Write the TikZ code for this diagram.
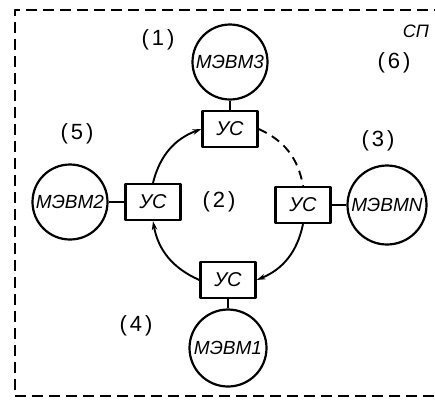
\documentclass[tikz,border=0pt]{standalone}
\usepackage{fontspec}
\setmainfont{Liberation Sans}
\usetikzlibrary{arrows.meta}
\newcommand{\lab}[1]{(\hspace{3pt}#1\hspace{3pt})}
\begin{document}
\begin{tikzpicture}[x=1pt,y=-1pt, line join=round,
  unit/.style={circle,draw,line width=2.2pt,minimum size=75pt,inner sep=0pt,font=\fontsize{19}{19}\selectfont\itshape},
  us/.style={rectangle,draw,line width=2.2pt,minimum width=55pt,minimum height=36pt,inner sep=0pt,font=\fontsize{20}{20}\selectfont\itshape},
  lbl/.style={font=\fontsize{22}{22}\selectfont},
  link/.style={line width=2pt},
  ring/.style={line width=1.9pt},
  tip/.style={-{Stealth[length=9pt,width=5.5pt]}}]
\useasboundingbox (0,0) rectangle (435,400);
\begin{scope}
  \clip (0,0) rectangle (435,400);
  \draw[line width=2.4pt, dash pattern=on 11pt off 6pt] (445,10) -- (15,10) -- (15,396) -- (445,396);
\end{scope}
% computers
\node[unit] (m3) at (230,62) {МЭВМ3};
\node[unit] (m2) at (70,202) {МЭВМ2};
\node[unit,minimum size=79pt] (mN) at (387,205) {МЭВМN};
\node[unit,minimum size=77pt] (m1) at (228,348) {МЭВМ1};
% switches
\node[us] (t) at (230,129) {УС};
\node[us] (l) at (153,202) {УС};
\node[us] (r) at (303,205) {УС};
\node[us] (b) at (228,280) {УС};
% links
\draw[link] (m3) -- (t);
\draw[link] (m2) -- (l);
\draw[link] (r) -- (mN);
\draw[link] (b) -- (m1);
% ring
\draw[ring,tip] (l.north) to[bend left=28] (t.west);
\draw[ring,dash pattern=on 9pt off 6pt] (t.east) to[bend left=28] (r.north);
\draw[ring,tip] (r.south) to[bend left=28] (b.east);
\draw[ring,tip] (b.west) to[bend left=28] (l.south);
% labels
\node[lbl] (n1) at (158,40) {\lab{1}};
\node[lbl] (n6) at (394,63) {\lab{6}};
\node[lbl] (n5) at (77,134) {\lab{5}};
\node[lbl] (n3) at (378,141) {\lab{3}};
\node[lbl] (n2) at (219,202) {\lab{2}};
\node[lbl] (n4) at (136,326) {\lab{4}};
\node[font=\fontsize{18}{18}\selectfont\itshape] (sp) at (416,31) {СП};
\end{tikzpicture}
\end{document}
